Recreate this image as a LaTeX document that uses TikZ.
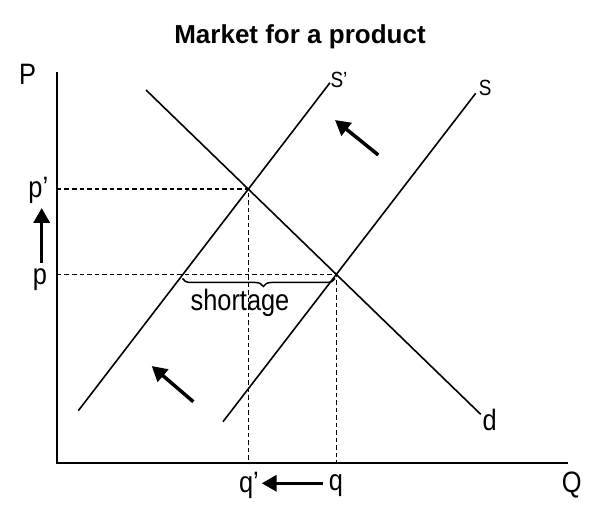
\documentclass[tikz,border=0pt]{standalone}
\usepackage{fontspec}
\setmainfont{Liberation Sans}[FakeStretch=0.86]
\newfontfamily\headfont{Liberation Sans}
\usetikzlibrary{arrows.meta, decorations.pathreplacing}

\begin{document}
\begin{tikzpicture}[x=1pt, y=1pt,
    curve/.style={line width=1.6pt},
    guide/.style={line width=1.6pt, dash pattern=on 4.5pt off 3pt},
    shiftarrow/.style={line width=3.5pt, -{Triangle[length=15pt 0, width=16pt 0]}},
    lbl/.style={font=\fontsize{29.5}{31}\selectfont, inner sep=0pt},
    slbl/.style={font=\fontsize{22}{24}\selectfont, inner sep=0pt}]
\useasboundingbox (-57,-59) rectangle (543,463);
% Title
\node[font=\headfont\bfseries\fontsize{26}{28}\selectfont] (title) at (243,426) {Market for a product};
% Axes
\coordinate (O) at (0,0);
\coordinate (ytop) at (0,391);
\coordinate (xend) at (511,0);
\draw[line width=2.2pt] (ytop) -- (O) -- (xend);
\node[lbl] (Plab) at (-29.3,388.7) {P};
\node[lbl] (Qlab) at (514.7,-21.5) {Q};
% Demand and supply curves
\coordinate (d0) at (89,373);
\coordinate (d1) at (423.7,48.7);
\coordinate (snew0) at (21.3,52.3);
\coordinate (snew1) at (273,380.3);
\coordinate (sold0) at (166,41.3);
\coordinate (sold1) at (418.7,369.7);
\draw[curve] (d0) -- (d1);
\draw[curve] (snew0) -- (snew1);
\draw[curve] (sold0) -- (sold1);
\node[lbl] (dlab) at (432.7,43) {d};
\node[slbl] (snewlab) at (282,383.5) {S’};
\node[slbl] (soldlab) at (428.3,374.7) {S};
% Equilibria and guides
\coordinate (Enew) at (intersection of d0--d1 and snew0--snew1);
\coordinate (Eold) at (intersection of d0--d1 and sold0--sold1);
\foreach \pt in {Enew, Eold} {
    \draw[guide] (O |- \pt) -- (\pt) -- (\pt |- O);
}
\node[lbl] (pnewlab) at (-18.7,272.7) {p’};
\node[lbl] (poldlab) at (-17,183) {p};
\node[lbl] (qnewlab) at (192,-22) {q’};
\node[lbl] (qoldlab) at (279,-23) {q};
% Shortage
\coordinate (shortL) at (125.5,184.5);
\coordinate (shortR) at (278,184.5);
\draw[line width=1.5pt, decorate, decoration={brace, mirror, amplitude=8pt, aspect=0.53}]
    (shortL) -- (shortR);
\node[lbl] (shortlab) at (183,160) {shortage};
% Arrows
\coordinate (ptail) at (-15.3,200);
\coordinate (phead) at (-15.3,255);
\coordinate (qtail) at (266,-20.3);
\coordinate (qhead) at (204.7,-20.3);
\coordinate (utail) at (321.3,308);
\coordinate (uhead) at (278,343);
\coordinate (ltail) at (136.3,61.3);
\coordinate (lhead) at (94.7,97);
\draw[shiftarrow] (ptail) -- (phead);
\draw[shiftarrow] (qtail) -- (qhead);
\draw[shiftarrow] (utail) -- (uhead);
\draw[shiftarrow] (ltail) -- (lhead);
\end{tikzpicture}
\end{document}
